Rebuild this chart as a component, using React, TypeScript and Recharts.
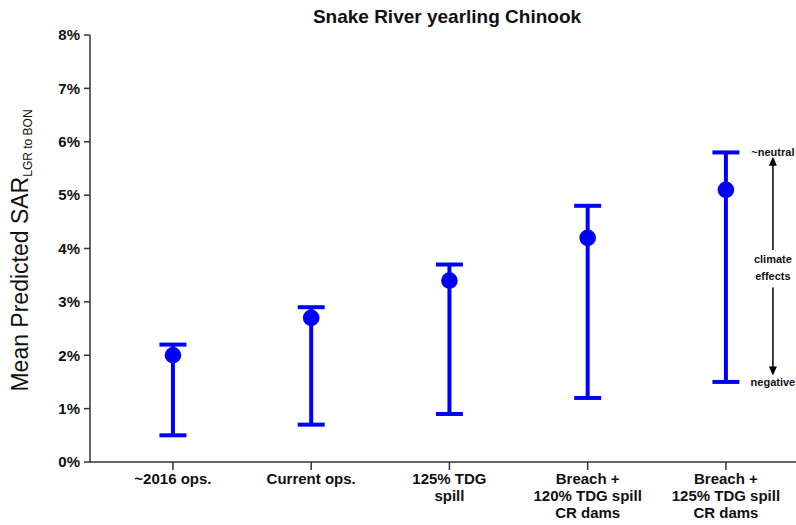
import {
  ComposedChart, Scatter, ErrorBar, XAxis, YAxis, ReferenceLine, ReferenceDot,
} from 'recharts';

const categories = [
  ['~2016 ops.'],
  ['Current ops.'],
  ['125% TDG', 'spill'],
  ['Breach +', '120% TDG spill', 'CR dams'],
  ['Breach +', '125% TDG spill', 'CR dams'],
];
const meanSar = [2.0, 2.7, 3.4, 4.2, 5.1];
const lowSar = [0.5, 0.7, 0.9, 1.2, 1.5];
const highSar = [2.2, 2.9, 3.7, 4.8, 5.8];
const yTicks = [0, 1, 2, 3, 4, 5, 6, 7, 8];

// climate-effects annotation on the right side
const annotX = 4.34;
const annotArrowUp = [5.62, 3.97];
const annotArrowDown = [3.27, 1.72];
const annotTextY = [3.8, 3.48];

const BLUE = '#0000ff';
const AXIS = '#333333';
const FONT = '"Liberation Sans", Arial, sans-serif';

const data = meanSar.map((mean, i) => ({
  idx: i,
  mean,
  err: [mean - lowSar[i], highSar[i] - mean],
}));

function CategoryTick({ x, y, payload }: any) {
  const lines = categories[payload.value] ?? [];
  return (
    <text x={x} y={y + 12} textAnchor="middle" fontFamily={FONT} fontWeight="bold" fontSize={15} fill="#111">
      {lines.map((line, i) => (
        <tspan key={i} x={x} dy={i === 0 ? 0 : 17}>{line}</tspan>
      ))}
    </text>
  );
}

function YTitle({ viewBox }: any) {
  const cy = viewBox.y + viewBox.height / 2 + 2;
  return (
    <text
      x={28}
      y={cy}
      transform={`rotate(-90, 28, ${cy})`}
      textAnchor="middle"
      fontFamily={FONT}
      fontSize={23}
      fill="#111"
    >
      Mean Predicted SAR
      <tspan fontSize={12} dy={4}>LGR to BON</tspan>
    </text>
  );
}

const textShape = (label: string) => (p: any) => (
  <text x={p.cx} y={p.cy + 4} textAnchor="middle" fontFamily={FONT} fontWeight="bold" fontSize={11} fill="#111">
    {label}
  </text>
);

const arrowHead = (up: boolean) => (p: any) => (
  <polygon
    points={up
      ? `${p.cx},${p.cy} ${p.cx - 4},${p.cy + 9} ${p.cx + 4},${p.cy + 9}`
      : `${p.cx},${p.cy} ${p.cx - 4},${p.cy - 9} ${p.cx + 4},${p.cy - 9}`}
    fill="#000"
  />
);

export default function App() {
  return (
    <div style={{ position: 'absolute', left: 0, top: 0, width: 796, height: 525, background: '#fff' }}>
      <div
        style={{
          position: 'absolute', left: 0, width: 894, top: 6, textAlign: 'center',
          fontFamily: FONT, fontWeight: 'bold', fontSize: 19, color: '#111',
        }}
      >
        Snake River yearling Chinook
      </div>
      <ComposedChart width={796} height={525} data={data} margin={{ top: 35, right: 0, bottom: 0, left: 0 }}>
        <XAxis
          dataKey="idx"
          type="number"
          domain={[-0.6, 4.507]}
          ticks={[0, 1, 2, 3, 4]}
          allowDataOverflow
          height={63}
          tick={<CategoryTick />}
          tickSize={8}
          stroke={AXIS}
          strokeWidth={1.5}
        />
        <YAxis
          type="number"
          domain={[0, 8]}
          ticks={yTicks}
          width={90}
          tickFormatter={(v) => `${v}%`}
          tick={{ fontFamily: FONT, fontWeight: 'bold', fontSize: 15, fill: '#111' }}
          tickSize={6}
          tickMargin={4}
          stroke={AXIS}
          strokeWidth={1.5}
          label={<YTitle />}
        />
        <Scatter
          dataKey="mean"
          fill={BLUE}
          isAnimationActive={false}
          shape={(p: any) => <circle cx={p.cx} cy={p.cy} r={8.3} fill={BLUE} />}
        >
          <ErrorBar
            dataKey="err"
            direction="y"
            width={13.5}
            stroke={BLUE}
            strokeWidth={4}
            isAnimationActive={false}
          />
        </Scatter>
        <ReferenceLine
          segment={[{ x: annotX, y: annotArrowUp[0] }, { x: annotX, y: annotArrowUp[1] }]}
          stroke="#000"
          strokeWidth={1.5}
        />
        <ReferenceLine
          segment={[{ x: annotX, y: annotArrowDown[0] }, { x: annotX, y: annotArrowDown[1] }]}
          stroke="#000"
          strokeWidth={1.5}
        />
        <ReferenceDot x={annotX} y={annotArrowUp[0] + 0.1} shape={arrowHead(true)} />
        <ReferenceDot x={annotX} y={annotArrowDown[1] - 0.1} shape={arrowHead(false)} />
        <ReferenceDot x={annotX} y={highSar[4]} shape={textShape('~neutral')} />
        <ReferenceDot x={annotX} y={lowSar[4]} shape={textShape('negative')} />
        <ReferenceDot x={annotX} y={annotTextY[0]} shape={textShape('climate')} />
        <ReferenceDot x={annotX} y={annotTextY[1]} shape={textShape('effects')} />
      </ComposedChart>
    </div>
  );
}
